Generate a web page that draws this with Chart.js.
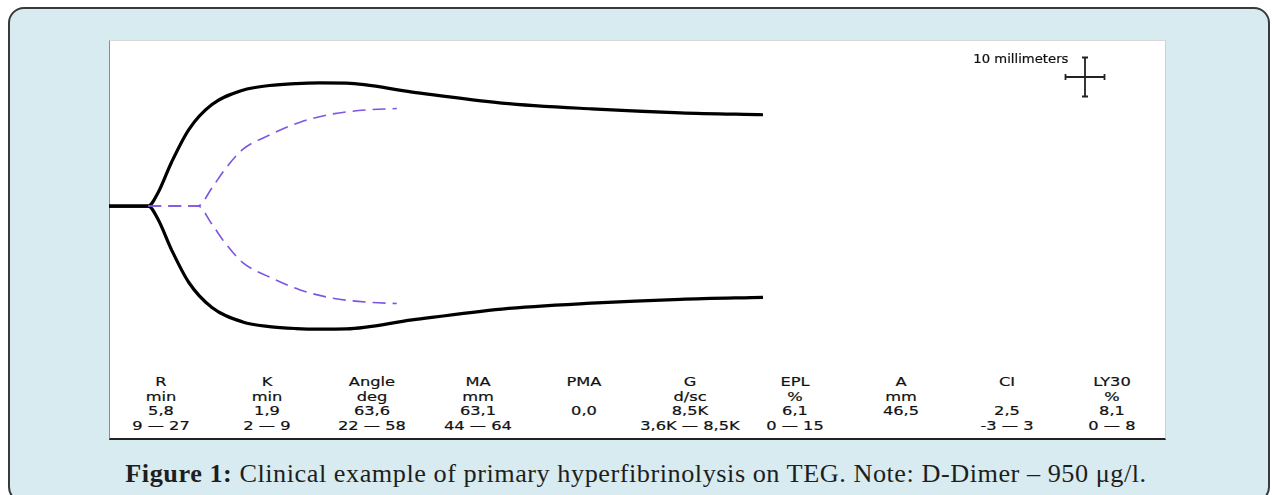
<!DOCTYPE html>
<html>
<head>
<meta charset="utf-8">
<script src="https://cdn.jsdelivr.net/npm/chart.js@4/dist/chart.umd.min.js"></script>
<style>
  body { margin: 0; width: 1272px; height: 495px; overflow: hidden; background: #fff; position: relative; }
  #frame { position: absolute; left: 8px; top: 7px; width: 1258px; height: 492px; border: 2px solid #3a3a3a; border-radius: 16px; background: #d7ebf0; }
  #sheet { position: absolute; left: 109px; top: 40px; width: 1057px; height: 400px; background: #fff; border-top: 1px solid #d8d8d8; border-right: 1px solid #d0d0d0; border-left: 1px solid #8a8a8a; border-bottom: 2px solid #222; box-sizing: border-box; }
  #chartBox { position: absolute; left: 109px; top: 40px; width: 1058px; height: 310px; }
  .cell { position: absolute; width: 170px; text-align: center; font-family: "DejaVu Sans", sans-serif; font-size: 12.5px; line-height: 14.5px; color: #111; -webkit-text-stroke: 0.2px #111; transform: scaleX(1.3); white-space: pre; }
  #scaleLabel { position: absolute; right: 204px; top: 52px; font-family: "DejaVu Sans", sans-serif; font-size: 12px; color: #111; -webkit-text-stroke: 0.2px #111; transform: scaleX(1.1); transform-origin: right center; white-space: nowrap; }
  #caption { position: absolute; left: 0; width: 1272px; top: 460px; text-align: center; font-family: "Liberation Serif", serif; font-size: 25px; letter-spacing: 0.5px; color: #1e1e1e; white-space: nowrap; transform: scaleX(1.05); }
</style>
</head>
<body>
<div id="frame"></div>
<div id="sheet"></div>
<div id="chartBox"><canvas id="teg"></canvas></div>
<div id="scaleLabel">10 millimeters</div>
<div id="caption"><b>Figure 1:</b> Clinical example of primary hyperfibrinolysis on TEG. Note: D-Dimer – 950 μg/l.</div>
<script>
// patient tracing: time (min) and full amplitude (mm)
const patientTime = [0, 5.6, 7.0, 8.9, 11.4, 14.7, 19.1, 22.9, 26.7, 30.1, 33.9, 43.3, 56.1, 68.9, 81.6, 93.4];
const patientAmp  = [0, 0, 6.8, 22.2, 39.2, 52.0, 59.4, 61.8, 62.8, 63.1, 63.0, 58.4, 52.8, 49.8, 47.8, 46.8];

// reference (normal) tracing, dashed
const refTime = [5.6, 12.7, 14.7, 16.6, 19.1, 23.0, 27.3, 31.9, 37.0, 41.1];
const refAmp  = [0, 0, 9.3, 19.0, 29.0, 36.5, 43.0, 47.2, 49.3, 50.0];

// parameter table
const paramNames  = ['R', 'K', 'Angle', 'MA', 'PMA', 'G', 'EPL', 'A', 'CI', 'LY30'];
const paramUnits  = ['min', 'min', 'deg', 'mm', '', 'd/sc', '%', 'mm', '', '%'];
const paramValues = ['5,8', '1,9', '63,6', '63,1', '0,0', '8,5K', '6,1', '46,5', '2,5', '8,1'];
const paramRanges = ['9 — 27', '2 — 9', '22 — 58', '44 — 64', '', '3,6K — 8,5K', '0 — 15', '', '-3 — 3', '0 — 8'];

const scaleBarMm = 10;

function half(times, amps, sign) {
  return times.map((t, i) => ({ x: t, y: sign * amps[i] / 2 }));
}

function traceSet(data, color, width, dash) {
  return {
    data: data,
    borderColor: color,
    borderWidth: width,
    borderDash: dash,
    pointRadius: 0,
    fill: false,
    cubicInterpolationMode: 'monotone'
  };
}

const scaleBarPlugin = {
  id: 'scaleBar',
  afterDraw(chart) {
    const ctx = chart.ctx;
    const y = chart.scales.y;
    const len = Math.abs(y.getPixelForValue(scaleBarMm) - y.getPixelForValue(0));
    const cx = 976, cy = 37;
    const cap = 3;
    ctx.save();
    ctx.strokeStyle = '#222';
    ctx.lineWidth = 1.8;
    ctx.beginPath();
    ctx.moveTo(cx, cy - len / 2); ctx.lineTo(cx, cy + len / 2);
    ctx.moveTo(cx - cap, cy - len / 2); ctx.lineTo(cx + cap, cy - len / 2);
    ctx.moveTo(cx - cap, cy + len / 2); ctx.lineTo(cx + cap, cy + len / 2);
    ctx.moveTo(cx - len / 2, cy); ctx.lineTo(cx + len / 2, cy);
    ctx.moveTo(cx - len / 2, cy - cap); ctx.lineTo(cx - len / 2, cy + cap);
    ctx.moveTo(cx + len / 2, cy - cap); ctx.lineTo(cx + len / 2, cy + cap);
    ctx.stroke();
    ctx.restore();
  }
};

new Chart(document.getElementById('teg'), {
  type: 'line',
  data: {
    datasets: [
      traceSet(half(refTime, refAmp, 1), '#7d55e0', 1.6, [13, 7]),
      traceSet(half(refTime, refAmp, -1), '#7d55e0', 1.6, [13, 7]),
      traceSet(half(patientTime, patientAmp, 1), '#000', 3.2, []),
      traceSet(half(patientTime, patientAmp, -1), '#000', 3.2, [])
    ]
  },
  options: {
    responsive: true,
    maintainAspectRatio: false,
    animation: false,
    layout: { padding: 0 },
    plugins: { legend: { display: false }, tooltip: { enabled: false } },
    scales: {
      x: { type: 'linear', min: 0, max: 151.1, display: false },
      y: { type: 'linear', min: -36.9, max: 42.56, display: false }
    }
  },
  plugins: [scaleBarPlugin]
});

// parameter table under the tracing
const colStart = 161, colStep = 105.7;
paramNames.forEach((name, i) => {
  const cell = document.createElement('div');
  cell.className = 'cell';
  cell.style.left = (colStart + colStep * i - 85) + 'px';
  cell.style.top = '375px';
  cell.textContent = [name, paramUnits[i], paramValues[i], paramRanges[i]].join('\n');
  document.body.appendChild(cell);
});
</script>
</body>
</html>
